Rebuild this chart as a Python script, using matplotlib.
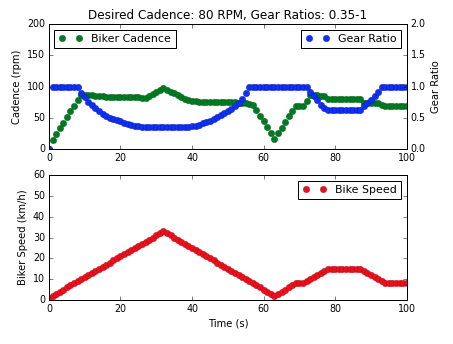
import matplotlib
matplotlib.use("Agg")
import matplotlib.pyplot as plt

plt.style.use("classic")

# время, с
time_s = list(range(101))

# каденс велосипедиста (rpm)
cadence = [
    0, 15, 24, 33, 42, 51, 60, 69, 78, 87,
    86, 86, 86, 85, 85, 85, 84, 84, 84, 84,
    83, 83, 83, 83, 83, 83, 82, 82, 85, 88,
    92, 95, 98, 95, 92, 89, 86, 83, 80, 78,
    77, 77, 76, 76, 76, 76, 75, 75, 75, 75,
    75, 75, 75, 74, 74, 73, 72, 70, 62, 53,
    44, 35, 25, 16, 25, 34, 43, 52, 61, 68,
    68, 68, 77, 87, 86, 86, 85, 85, 80, 80,
    80, 80, 80, 80, 80, 80, 80, 80, 73, 73,
    73, 73, 73, 70, 68, 68, 68, 68, 68, 68,
    68,
]

# передаточное отношение
gear = [
    0.0, 1.0, 1.0, 1.0, 1.0, 1.0, 1.0, 1.0, 1.0, 0.90,
    0.83, 0.76, 0.70, 0.65, 0.60, 0.56, 0.53, 0.50, 0.48, 0.46,
    0.44, 0.42, 0.40, 0.38, 0.37, 0.36, 0.35, 0.35, 0.35, 0.35,
    0.35, 0.35, 0.35, 0.35, 0.35, 0.35, 0.35, 0.35, 0.35, 0.35,
    0.36, 0.37, 0.39, 0.41, 0.43, 0.45, 0.48, 0.51, 0.54, 0.57,
    0.60, 0.64, 0.68, 0.73, 0.80, 0.90, 1.0, 1.0, 1.0, 1.0,
    1.0, 1.0, 1.0, 1.0, 1.0, 1.0, 1.0, 1.0, 1.0, 1.0,
    1.0, 1.0, 1.0, 0.92, 0.85, 0.78, 0.70, 0.65, 0.63, 0.63,
    0.63, 0.63, 0.63, 0.63, 0.63, 0.63, 0.63, 0.63, 0.68, 0.73,
    0.78, 0.85, 0.92, 1.0, 1.0, 1.0, 1.0, 1.0, 1.0, 1.0,
    1.0,
]

# скорость (км/ч)
speed = [
    1, 2, 3, 4, 5, 6, 7, 8, 9, 10,
    11, 12, 13, 14, 15, 16, 17, 18, 19, 20,
    21, 22, 23, 24, 25, 26, 27, 28, 29, 30,
    31, 32, 33, 32, 31, 30, 29, 28, 27, 26,
    25, 24, 23, 22, 21, 20, 19, 18, 17, 16,
    15, 14, 13, 12, 11, 10, 9, 8, 7, 6,
    5, 4, 3, 2, 3, 4, 5, 6, 7, 8,
    8, 8, 9, 10, 11, 12, 13, 14, 15, 15,
    15, 15, 15, 15, 15, 15, 15, 15, 14, 13,
    12, 11, 10, 9, 8, 8, 8, 8, 8, 8,
    8,
]

fig = plt.figure(figsize=(453 / 72, 344 / 72), dpi=72, facecolor="white")

mk = dict(markersize=6.5, markeredgewidth=0.3)
leg = dict(fontsize=11, numpoints=2, handlelength=2.15)
fs = 10

ax1 = fig.add_axes([0.108, 0.567, 0.790, 0.363])
ax1.plot(time_s, cadence, "o", color="#007a22", markeredgecolor="#005515",
         label="Biker Cadence", **mk)
ax1.set_ylim(0, 200)
ax1.set_xlim(0, 100)
ax1.set_ylabel("Cadence (rpm)", fontsize=fs)
ax1.set_title("Desired Cadence: 80 RPM, Gear Ratios: 0.35-1", fontsize=12)
ax1.tick_params(labelsize=9.5)
ax1.legend(loc="upper left", **leg)

ax2 = ax1.twinx()
ax2.plot(time_s, gear, "o", color="#1030f0", markeredgecolor="#0010a0",
         label="Gear Ratio", **mk)
ax2.set_ylim(0, 2)
ax2.set_xlim(0, 100)
ax2.set_ylabel("Gear Ratio", fontsize=fs)
ax2.tick_params(labelsize=9.5)
ax2.legend(loc="upper right", **leg)

ax3 = fig.add_axes([0.108, 0.128, 0.790, 0.363])
ax3.plot(time_s, speed, "o", color="#e8101a", markeredgecolor="#a00010",
         label="Bike Speed", **mk)
ax3.set_ylim(0, 60)
ax3.set_xlim(0, 100)
ax3.set_xlabel("Time (s)", fontsize=fs)
ax3.set_ylabel("Biker Speed (km/h)", fontsize=fs)
ax3.tick_params(labelsize=9.5)
ax3.legend(loc="upper right", **leg)

fig.savefig("out.png", dpi=72, facecolor="white")
